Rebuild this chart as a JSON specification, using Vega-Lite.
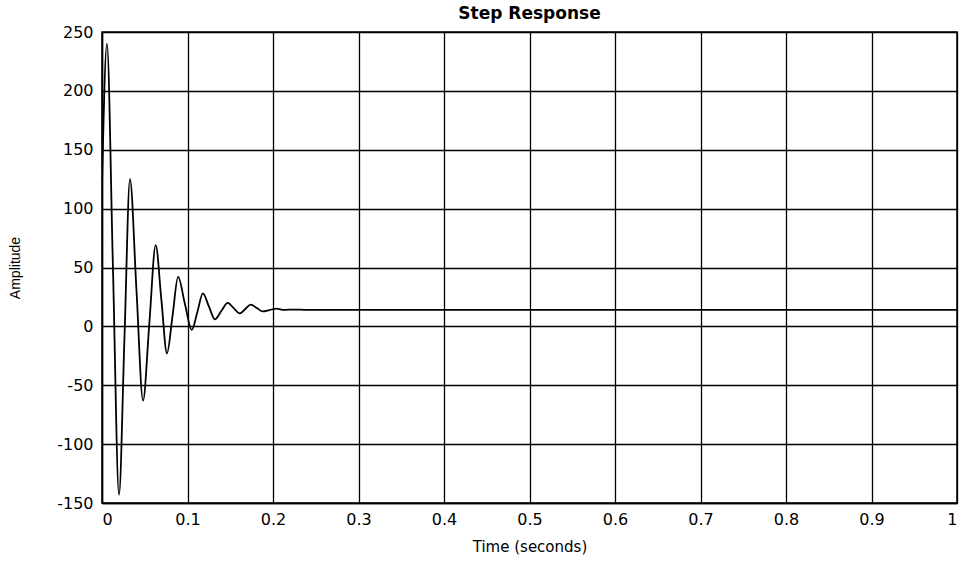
{
  "$schema": "https://vega.github.io/schema/vega-lite/v6.json",
  "autosize": "none",
  "padding": {"left": 102, "top": 32, "right": 7, "bottom": 58},
  "width": 855,
  "height": 471,
  "background": "white",
  "config": {
    "view": {"stroke": "black", "strokeWidth": 1.5},
    "font": "DejaVu Sans",
    "axis": {
      "gridColor": "black",
      "gridOpacity": 1,
      "gridWidth": 1.3,
      "domainColor": "black",
      "domainWidth": 1.5,
      "ticks": false,
      "labelFont": "DejaVu Sans",
      "labelFontSize": 16,
      "labelColor": "black",
      "titleFont": "DejaVu Sans",
      "titleFontSize": 15,
      "titleFontWeight": "normal",
      "titleColor": "black",
      "labelExpr": "replace(datum.label, '−', '-')"
    }
  },
  "title": {
    "text": "Step Response",
    "fontSize": 17,
    "fontWeight": "bold",
    "font": "DejaVu Sans",
    "color": "black",
    "offset": 1
  },
  "data": {
    "values": [
      {"t": 0, "v": 120},
      {"t": 0.0058, "v": 240},
      {"t": 0.0128, "v": 50},
      {"t": 0.0199, "v": -143},
      {"t": 0.0263, "v": -9},
      {"t": 0.0327, "v": 125},
      {"t": 0.0403, "v": 31},
      {"t": 0.048, "v": -63},
      {"t": 0.0554, "v": 3},
      {"t": 0.0628, "v": 69},
      {"t": 0.0694, "v": 23},
      {"t": 0.076, "v": -23},
      {"t": 0.0825, "v": 9},
      {"t": 0.089, "v": 42},
      {"t": 0.097, "v": 19},
      {"t": 0.105, "v": -3},
      {"t": 0.1115, "v": 12},
      {"t": 0.118, "v": 28},
      {"t": 0.125, "v": 17},
      {"t": 0.132, "v": 6},
      {"t": 0.1395, "v": 13},
      {"t": 0.147, "v": 20},
      {"t": 0.154, "v": 15.5},
      {"t": 0.161, "v": 11},
      {"t": 0.1675, "v": 14.7},
      {"t": 0.174, "v": 18.5},
      {"t": 0.181, "v": 15.6},
      {"t": 0.188, "v": 12.7},
      {"t": 0.196, "v": 13.9},
      {"t": 0.204, "v": 15},
      {"t": 0.213, "v": 14},
      {"t": 0.223, "v": 14.3},
      {"t": 0.24, "v": 14},
      {"t": 1.0, "v": 14}
    ]
  },
  "mark": {"type": "line", "color": "black", "strokeWidth": 1.8, "interpolate": "monotone", "clip": true},
  "encoding": {
    "x": {
      "field": "t",
      "type": "quantitative",
      "scale": {"domain": [0, 1], "nice": false, "zero": false},
      "axis": {
        "title": "Time (seconds)",
        "values": [0, 0.1, 0.2, 0.3, 0.4, 0.5, 0.6, 0.7, 0.8, 0.9, 1],
        "format": "~g",
        "labelPadding": 8,
        "titlePadding": 12
      }
    },
    "y": {
      "field": "v",
      "type": "quantitative",
      "scale": {"domain": [-150, 250], "nice": false, "zero": false},
      "axis": {
        "title": "Amplitude",
        "titleFont": "Liberation Sans",
        "titleFontSize": 14,
        "values": [-150, -100, -50, 0, 50, 100, 150, 200, 250],
        "labelPadding": 9,
        "titlePadding": 34
      }
    }
  }
}
